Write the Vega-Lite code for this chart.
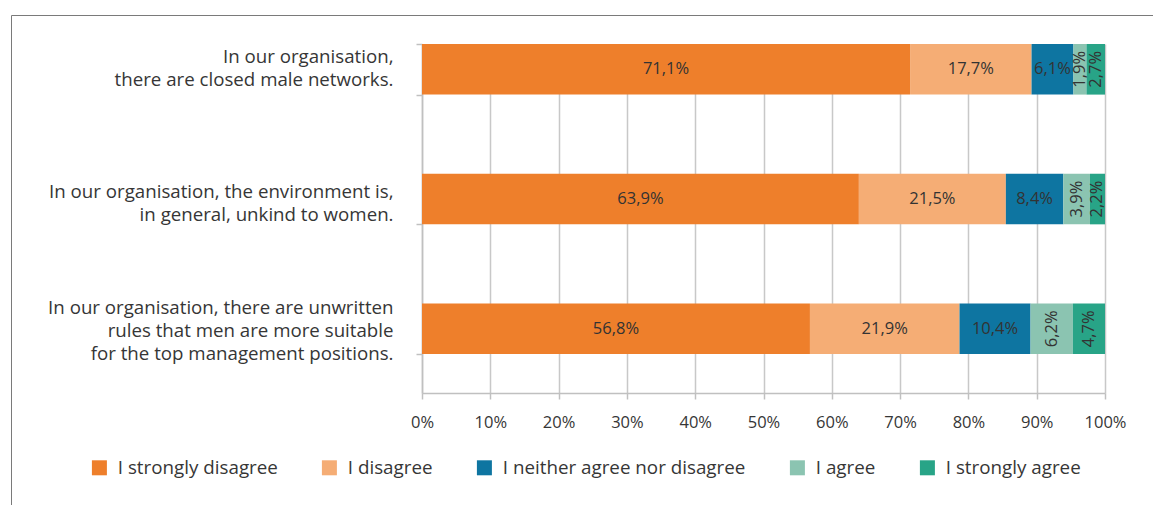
{
  "$schema": "https://vega.github.io/schema/vega-lite/v6.json",
  "width": 683,
  "height": 349,
  "autosize": {"type": "none"},
  "padding": {"left": 422, "top": 44, "right": 48, "bottom": 112},
  "config": {
    "font": "Open Sans",
    "view": {"stroke": null},
    "locale": {"number": {"decimal": ",", "thousands": ".", "grouping": [3], "currency": ["", " €"]}}
  },
  "data": {
    "values": [
      {"q": "In our organisation,|there are closed male networks.", "c": "I strongly disagree", "o": 1, "v": 0.711},
      {"q": "In our organisation,|there are closed male networks.", "c": "I disagree", "o": 2, "v": 0.177},
      {"q": "In our organisation,|there are closed male networks.", "c": "I neither agree nor disagree", "o": 3, "v": 0.061},
      {"q": "In our organisation,|there are closed male networks.", "c": "I agree", "o": 4, "v": 0.019},
      {"q": "In our organisation,|there are closed male networks.", "c": "I strongly agree", "o": 5, "v": 0.027},
      {"q": "In our organisation, the environment is,|in general, unkind to women.", "c": "I strongly disagree", "o": 1, "v": 0.639},
      {"q": "In our organisation, the environment is,|in general, unkind to women.", "c": "I disagree", "o": 2, "v": 0.215},
      {"q": "In our organisation, the environment is,|in general, unkind to women.", "c": "I neither agree nor disagree", "o": 3, "v": 0.084},
      {"q": "In our organisation, the environment is,|in general, unkind to women.", "c": "I agree", "o": 4, "v": 0.039},
      {"q": "In our organisation, the environment is,|in general, unkind to women.", "c": "I strongly agree", "o": 5, "v": 0.022},
      {"q": "In our organisation, there are unwritten|rules that men are more suitable|for the top management positions.", "c": "I strongly disagree", "o": 1, "v": 0.568},
      {"q": "In our organisation, there are unwritten|rules that men are more suitable|for the top management positions.", "c": "I disagree", "o": 2, "v": 0.219},
      {"q": "In our organisation, there are unwritten|rules that men are more suitable|for the top management positions.", "c": "I neither agree nor disagree", "o": 3, "v": 0.104},
      {"q": "In our organisation, there are unwritten|rules that men are more suitable|for the top management positions.", "c": "I agree", "o": 4, "v": 0.062},
      {"q": "In our organisation, there are unwritten|rules that men are more suitable|for the top management positions.", "c": "I strongly agree", "o": 5, "v": 0.047}
    ]
  },
  "transform": [
    {"stack": "v", "groupby": ["q"], "sort": [{"field": "o", "order": "ascending"}], "offset": "normalize", "as": ["x0", "x1"]},
    {"calculate": "(datum.x0 + datum.x1) / 2", "as": "xm"}
  ],
  "encoding": {
    "y": {
      "field": "q",
      "type": "nominal",
      "sort": null,
      "scale": {"paddingInner": 0.61, "paddingOuter": 0.15, "align": 0},
      "axis": {
        "title": null,
        "labelExpr": "split(datum.label, '|')",
        "labelFontSize": 18.7,
        "labelColor": "#363636",
        "labelLineHeight": 23,
        "labelLimit": 500,
        "labelPadding": 23,
        "labelOffset": {"condition": [
          {"test": "length(split(datum.label, '|')) >= 3", "value": -21},
          {"test": "indexof(datum.label, 'environment') >= 0", "value": -8}
        ], "value": -13},
        "tickBand": "extent",
        "tickSize": 6,
        "tickColor": "#c0c0c0",
        "domainColor": "#c0c0c0",
        "domainWidth": 1.5,
        "tickWidth": 1.5
      }
    }
  },
  "layer": [
    {
      "mark": {"type": "bar"},
      "encoding": {
        "x": {
          "field": "x0",
          "type": "quantitative",
          "scale": {"domain": [0, 1]},
          "axis": {
            "title": null,
            "values": [0, 0.1, 0.2, 0.3, 0.4, 0.5, 0.6, 0.7, 0.8, 0.9, 1],
            "format": ".0%",
            "labelFlush": false,
            "labelFontSize": 16.5,
            "labelColor": "#363636",
            "labelPadding": 15,
            "tickSize": 6,
            "tickColor": "#c0c0c0",
            "tickWidth": 1.5,
            "domainColor": "#c0c0c0",
            "domainWidth": 1.5,
            "grid": true,
            "gridColor": "#c8c8c8",
            "gridWidth": 1.5
          }
        },
        "x2": {"field": "x1"},
        "color": {
          "field": "c",
          "type": "nominal",
          "scale": {
            "domain": ["I strongly disagree", "I disagree", "I neither agree nor disagree", "I agree", "I strongly agree"],
            "range": ["#EE7F2B", "#F5AD75", "#0E75A1", "#8BC4B1", "#28A487"]
          },
          "legend": {
            "title": null,
            "orient": "none",
            "direction": "horizontal",
            "legendX": -332,
            "legendY": 414,
            "symbolType": "square",
            "symbolSize": 225,
            "symbolStrokeWidth": 0,
            "labelFontSize": 18.8,
            "labelColor": "#363636",
            "labelOffset": 9,
            "columnPadding": 42,
            "labelLimit": 400
          }
        },
        "opacity": {
          "datum": "frame",
          "type": "ordinal",
          "scale": {"range": [1]},
          "legend": {
            "title": null,
            "orient": "none",
            "legendX": -411,
            "legendY": -29,
            "padding": 700,
            "strokeColor": "#7a7a7a",
            "symbolOpacity": 0,
            "symbolSize": 1,
            "labelExpr": "''",
            "labelOpacity": 0,
            "labelFontSize": 1
          }
        }
      }
    },
    {
      "transform": [{"filter": "datum.o <= 3"}],
      "mark": {"type": "text", "fontSize": 16.5, "color": "#333333"},
      "encoding": {
        "x": {"field": "xm", "type": "quantitative"},
        "text": {"field": "v", "type": "quantitative", "format": ".1%"}
      }
    },
    {
      "transform": [{"filter": "datum.o > 3"}],
      "mark": {"type": "text", "fontSize": 16.5, "color": "#333333", "angle": 270},
      "encoding": {
        "x": {"field": "xm", "type": "quantitative"},
        "text": {"field": "v", "type": "quantitative", "format": ".1%"}
      }
    }
  ]
}
